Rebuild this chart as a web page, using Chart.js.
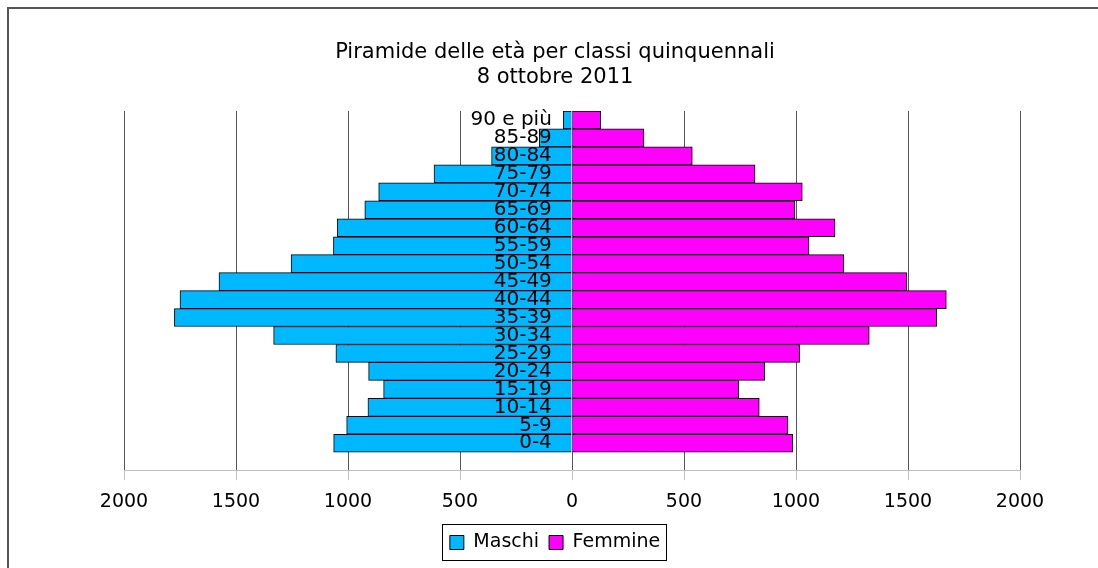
<!DOCTYPE html>
<html>
<head>
<meta charset="utf-8">
<script src="https://cdn.jsdelivr.net/npm/chart.js@4.4.1/dist/chart.umd.min.js"></script>
<style>
  body { margin: 0; background: #fff; }
  canvas { display: block; }
</style>
</head>
<body>
<canvas id="myChart" width="1098" height="568"></canvas>
<script>
const ageClasses = ["90 e più", "85-89", "80-84", "75-79", "70-74", "65-69", "60-64", "55-59", "50-54", "45-49",
  "40-44", "35-39", "30-34", "25-29", "20-24", "15-19", "10-14", "5-9", "0-4"];
const maschi = [39, 146, 359, 616, 863, 925, 1048, 1065, 1254, 1576, 1750, 1775, 1332, 1054, 908, 841, 911, 1006, 1064];
const femmine = [128, 321, 537, 817, 1028, 995, 1174, 1058, 1213, 1495, 1671, 1628, 1327, 1016, 860, 744, 836, 964, 985];
const xTicks = [-2000, -1500, -1000, -500, 0, 500, 1000, 1500, 2000];
const titleLines = ["Piramide delle età per classi quinquennali", "8 ottobre 2011"];

Chart.defaults.font.family = '"DejaVu Sans", Verdana, sans-serif';
Chart.defaults.font.size = 19;
Chart.defaults.color = "#000";

// the original centers title and legend a bit left of the plot
const shiftBoxes = {
  id: "shiftBoxes",
  afterLayout(chart) {
    [chart.titleBlock, chart.legend].forEach((box) => {
      box.left -= 17;
      box.right -= 17;
    });
  },
  afterDraw(chart) {
    const ctx = chart.ctx;
    ctx.save();
    // outer frame
    ctx.strokeStyle = "#555";
    ctx.lineWidth = 2;
    ctx.beginPath();
    ctx.moveTo(8, 568);
    ctx.lineTo(8, 8);
    ctx.lineTo(1098, 8);
    ctx.stroke();
    // legend frame
    const boxes = chart.legend.legendHitBoxes;
    let left = Infinity, right = -Infinity, top = Infinity, bottom = -Infinity;
    boxes.forEach((b) => {
      left = Math.min(left, b.left);
      right = Math.max(right, b.left + b.width);
      top = Math.min(top, b.top);
      bottom = Math.max(bottom, b.top + b.height);
    });
    ctx.strokeStyle = "#000";
    ctx.lineWidth = 1;
    ctx.strokeRect(Math.round(left - 8) + 0.5, Math.round(top - 9) + 0.5, Math.round(right - left + 14), Math.round(bottom - top + 17));
    ctx.restore();
  },
};

const data = {
  labels: ageClasses.concat([""]),
  datasets: [
    {
      label: "Maschi",
      backgroundColor: "#00b8ff",
      borderColor: "#000",
      borderWidth: 1,
      data: maschi.map((v) => -v).concat([null]),
    },
    {
      label: "Femmine",
      backgroundColor: "#ff00ff",
      borderColor: "#000",
      borderWidth: 1,
      data: femmine.concat([null]),
    },
  ],
};

const config = {
  type: "bar",
  data,
  plugins: [shiftBoxes],
  options: {
    indexAxis: "y",
    responsive: false,
    animation: false,
    devicePixelRatio: 1,
    barPercentage: 1,
    categoryPercentage: 1,
    layout: {
      padding: { left: 124, right: 78, top: 0, bottom: 6 },
    },
    scales: {
      x: {
        stacked: true,
        min: -2000,
        max: 2000,
        afterBuildTicks: (scale) => {
          scale.ticks = xTicks.map((v) => ({ value: v }));
        },
        ticks: {
          padding: 10,
          maxRotation: 0,
          callback: (value) => Math.abs(value),
        },
        grid: {
          color: "#555",
          tickColor: "#c0c0c0",
          tickLength: 10,
        },
        border: { color: "#c0c0c0" },
      },
      y: {
        stacked: true,
        position: { x: -90 },
        grid: { display: false, drawTicks: false },
        border: { display: false },
        ticks: { z: 1, padding: 0, autoSkip: false, font: { size: 20 } },
      },
    },
    plugins: {
      title: {
        display: true,
        text: titleLines,
        font: { size: 21, weight: "normal", lineHeight: 1.19 },
        padding: { top: 40, bottom: 21 },
      },
      legend: {
        position: "bottom",
        labels: {
          boxWidth: 14,
          boxHeight: 14,
          padding: 10,
        },
      },
      tooltip: { enabled: false },
    },
  },
};

const myChart = new Chart(document.getElementById("myChart"), config);
</script>
</body>
</html>
